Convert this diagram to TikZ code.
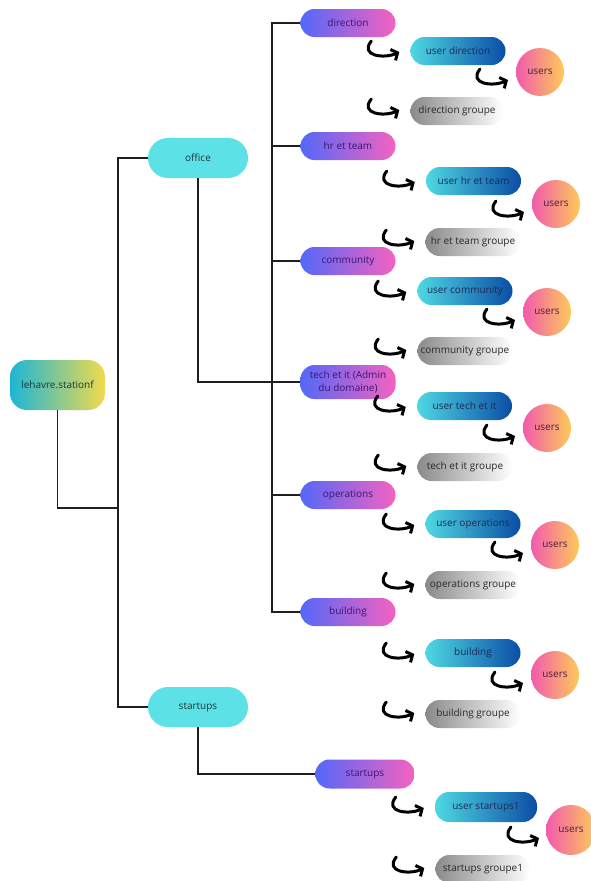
\documentclass[tikz,border=0pt]{standalone}
\usepackage{fontspec}
\setmainfont{Open Sans}
\usetikzlibrary{arrows.meta}
\definecolor{topC}{HTML}{5CE1E6}
\definecolor{rootL}{HTML}{1CB6D6}
\definecolor{rootR}{HTML}{F2DA4C}
\definecolor{subL}{HTML}{5468F8}
\definecolor{subR}{HTML}{F462C0}
\definecolor{subT}{HTML}{3A1670}
\definecolor{usrL}{HTML}{4ED8E2}
\definecolor{usrR}{HTML}{0B4DA6}
\definecolor{usrT}{HTML}{1C2A55}
\definecolor{grpL}{HTML}{8A8A8A}
\definecolor{grpT}{HTML}{2A2A2A}
\definecolor{cirL}{HTML}{F25AAE}
\definecolor{cirR}{HTML}{FDCB58}
\definecolor{cirT}{HTML}{4A1E3E}
\definecolor{topT}{HTML}{1A3A3C}
\definecolor{lineC}{HTML}{1E1E1E}
\newcommand{\hookat}[1]{\draw[hookarr] ([shift={(-28,-11)}]#1) .. controls +(-12,15) and +(-15,7) .. (#1);}
\begin{document}
\begin{tikzpicture}[x=1pt,y=-1pt,
  base/.style={inner sep=0pt, font=\fontsize{10}{13.5}\selectfont, align=center},
  pill/.style={base, rounded corners=14pt, minimum width=95pt, minimum height=28pt},
  rootbox/.style={base, rounded corners=17pt, minimum width=95pt, minimum height=50pt, left color=rootL, right color=rootR, text=topT},
  topbox/.style={base, fill=topC, rounded corners=20pt, minimum width=100pt, minimum height=40pt, text=topT},
  subbox/.style={pill, left color=subL, right color=subR, text=subT},
  userbox/.style={pill, left color=usrL, right color=usrR, text=usrT},
  grpbox/.style={pill, left color=grpL, right color=white, text=grpT},
  userscirc/.style={base, circle, minimum size=48pt, left color=cirL, right color=cirR, text=cirT},
  conn/.style={line width=1.4pt, draw=lineC},
  hookarr/.style={line width=3pt, line cap=round, line join=round, draw=black, -{Straight Barb[length=5pt,width=12pt]}}]
\useasboundingbox (0,0) rectangle (591,881);
\fill[white] (0,0) rectangle (591,881);

% left column
\node[rootbox] (root) at (57.5,385) {lehavre.stationf};
\node[topbox] (office) at (198,158) {office};
\node[topbox] (stA) at (198,707) {startups};

% second level
\node[subbox] (dir) at (348,23) {direction};
\node[subbox] (hr) at (348,146) {hr et team};
\node[subbox] (com) at (348,261) {community};
\node[subbox, minimum height=34pt] (tech) at (348,382) {tech et it (Admin\\du domaine)};
\node[subbox] (ops) at (348,495) {operations};
\node[subbox] (bld) at (348,612) {building};
\node[subbox, minimum width=99pt, minimum height=29pt] (stB) at (365,774) {startups};

% user nodes
\node[userbox] (u1) at (458,51) {user direction};
\node[userbox] (u2) at (473.5,181) {user hr et team};
\node[userbox] (u3) at (465,291) {user community};
\node[userbox] (u4) at (464.5,406) {user tech et it};
\node[userbox] (u5) at (473,524) {user operations};
\node[userbox] (u6) at (473,653) {building};
\node[userbox, minimum width=102pt, minimum height=30pt] (u7) at (486,807) {user startups1};

% users circles
\node[userscirc] (c1) at (540,72) {users};
\node[userscirc] (c2) at (556,204) {users};
\node[userscirc] (c3) at (547,312) {users};
\node[userscirc] (c4) at (547,428) {users};
\node[userscirc] (c5) at (555,545) {users};
\node[userscirc] (c6) at (555,675) {users};
\node[userscirc, minimum size=50pt] (c7) at (571,830) {users};

% group nodes
\node[grpbox, minimum width=93pt] (g1) at (457,111) {direction groupe};
\node[grpbox] (g2) at (473,242) {hr et team groupe};
\node[grpbox] (g3) at (465,351) {community groupe};
\node[grpbox] (g4) at (465,467) {tech et it groupe};
\node[grpbox] (g5) at (473,585) {operations groupe};
\node[grpbox] (g6) at (473,714) {building groupe};
\node[grpbox] (g7) at (483,869) {startups groupe1};

% connectors
\coordinate (trunk) at (118,508);
\draw[conn] (root.south) |- (trunk);
\draw[conn] (office.west) -- ++(-30,0) |- (stA.west);
\draw[conn] (dir.west) -- ++(-28.5,0) |- (bld.west);
\foreach \n in {hr,com,tech,ops} {\draw[conn] (\n.west) -- ++(-28.5,0);}
\draw[conn] (office.south) |- (tech.west);
\draw[conn] (stA.south) |- (stB.west);

% hook arrows
\foreach \i in {1,...,7} {
  \coordinate (ha\i) at ([shift={(-11,1)}]u\i.west);
  \coordinate (hb\i) at ([shift={(-32,8)}]c\i.center);
  \coordinate (hc\i) at ([shift={(-11,-1)}]g\i.west);
  \hookat{ha\i}
  \hookat{hb\i}
  \hookat{hc\i}
}
\end{tikzpicture}
\end{document}
